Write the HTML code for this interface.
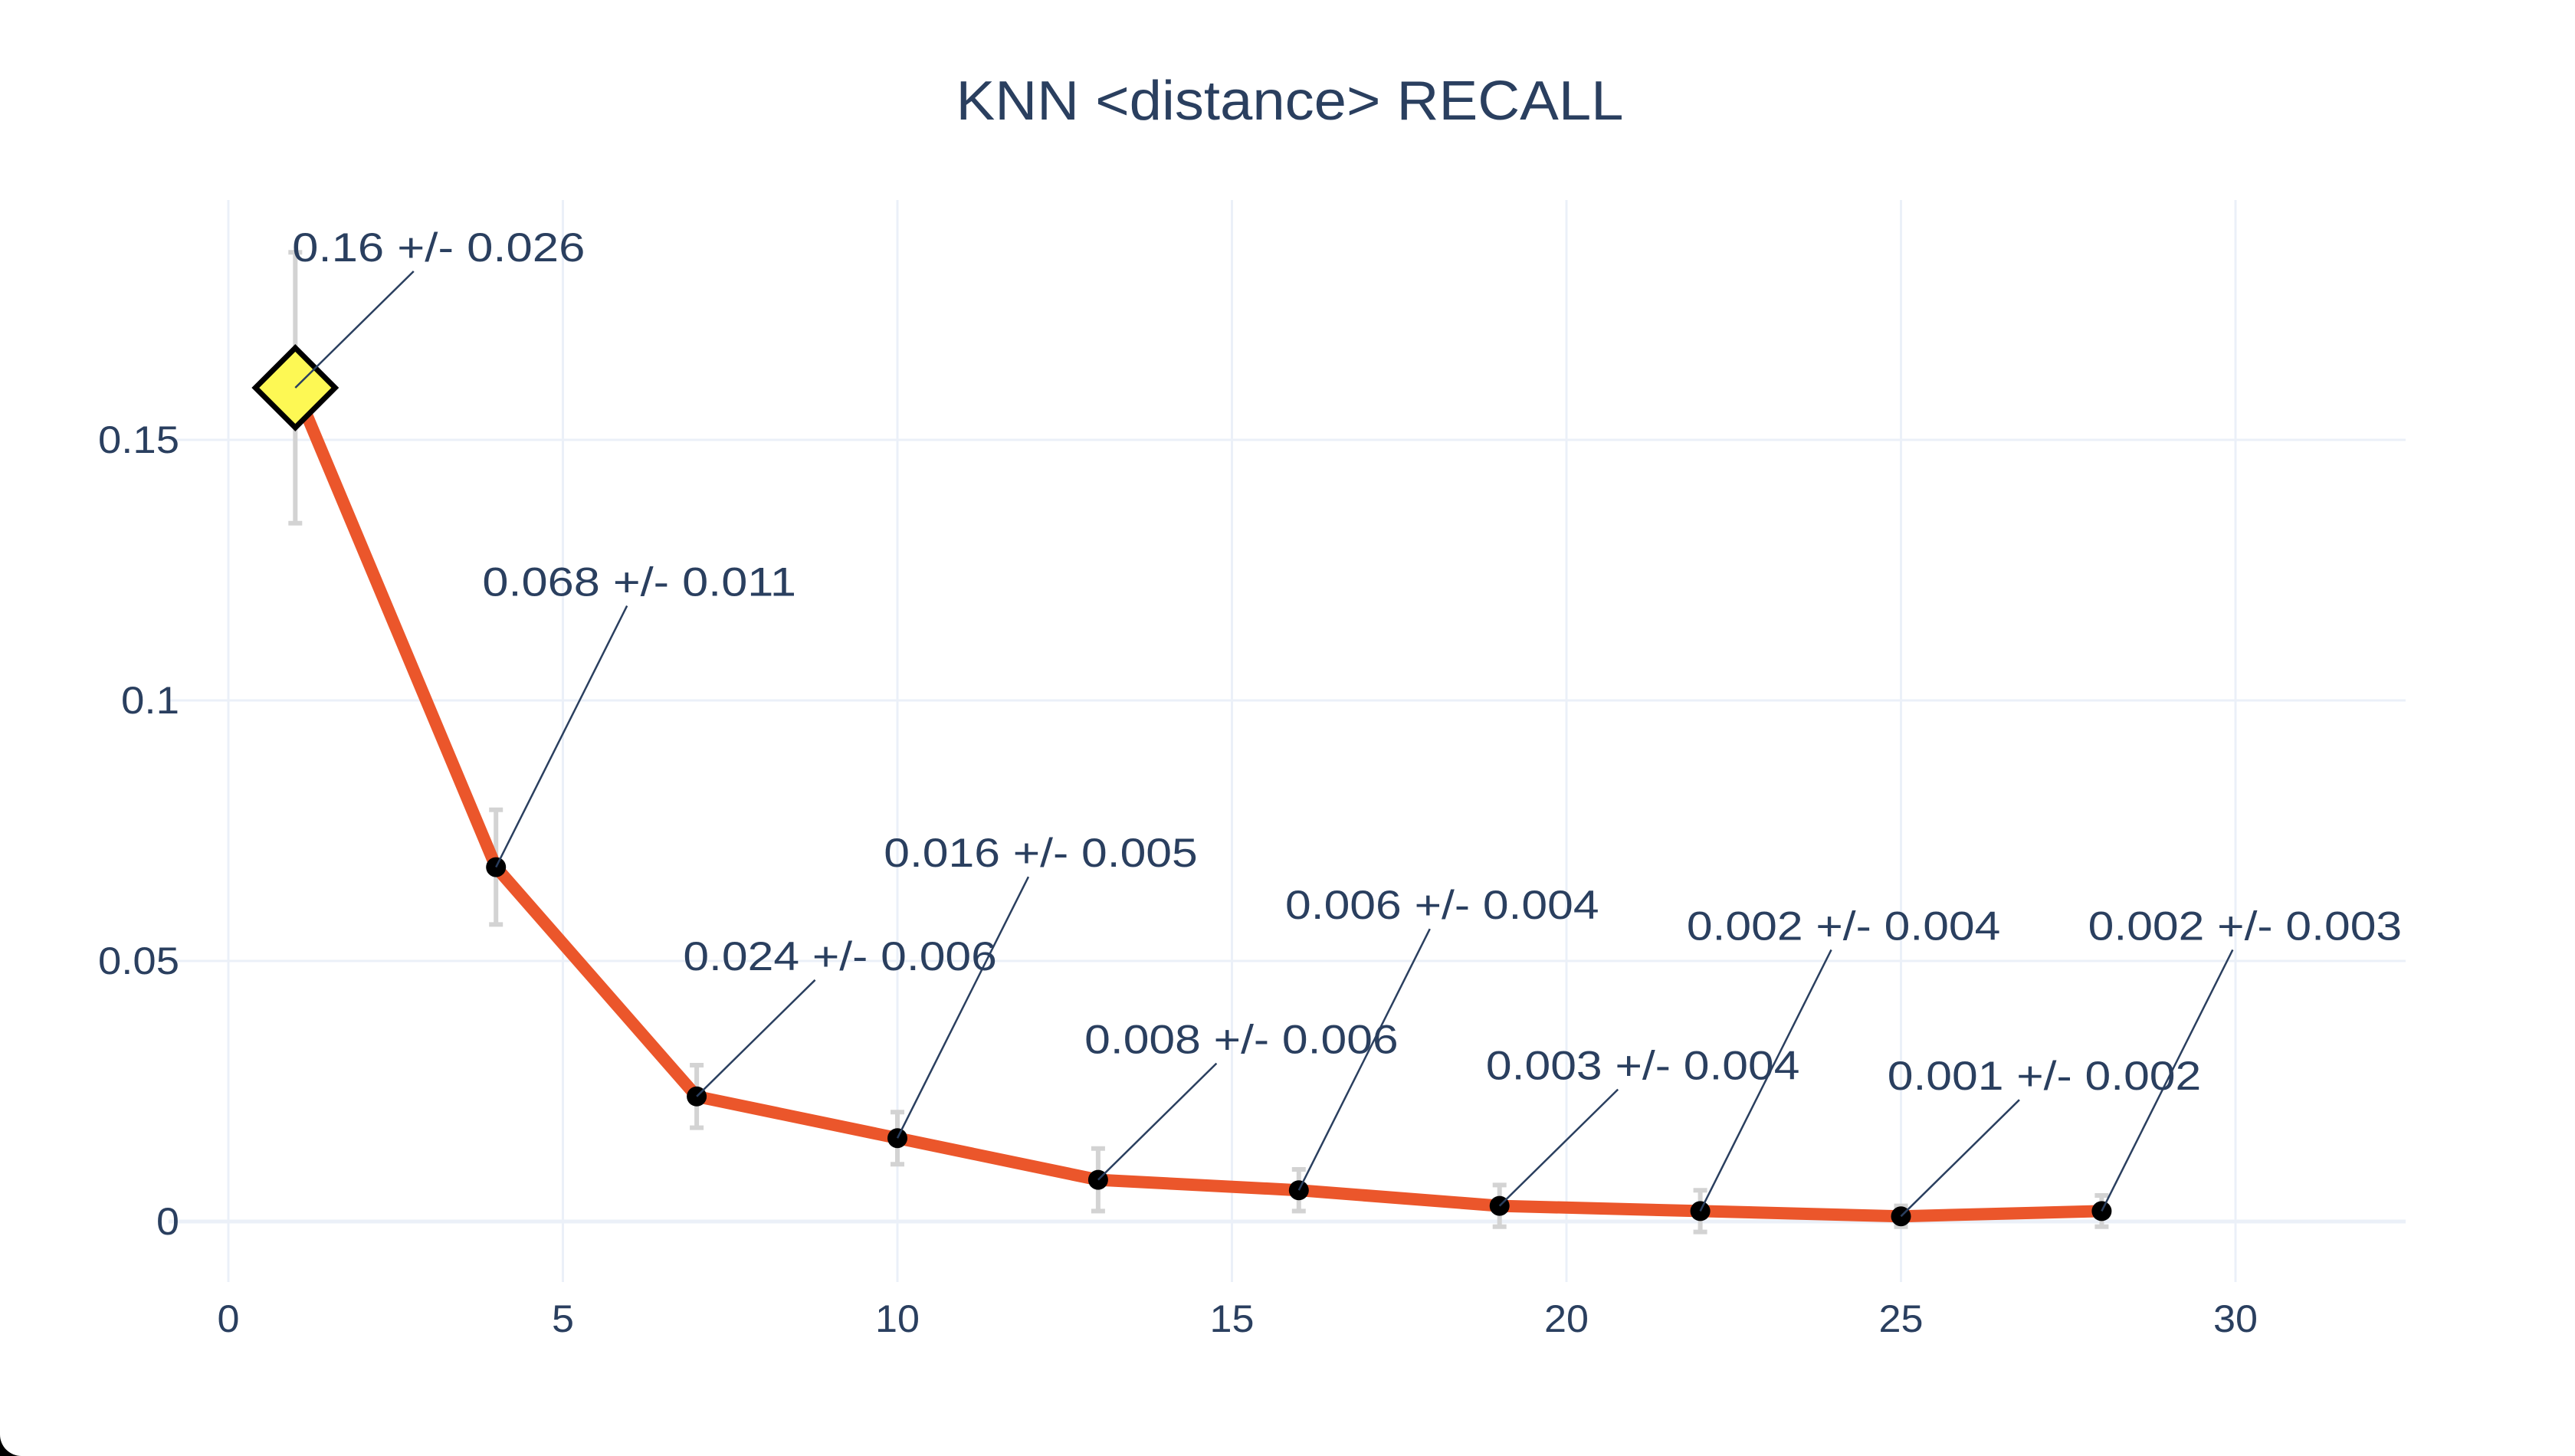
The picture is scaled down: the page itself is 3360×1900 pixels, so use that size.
<!DOCTYPE html>
<html><head><meta charset="utf-8"><style>
html,body{margin:0;padding:0;background:#000;}
#wrap{width:3360px;height:1900px;background:#fff;border-radius:0 0 0 28px;overflow:hidden;}
text{font-family:"Liberation Sans",sans-serif;fill:#2a3f5f;}
</style></head><body>
<div id="wrap">
<svg id="chart" width="3360" height="1900">
<text x="1683" y="156" font-size="72" text-anchor="middle" textLength="871" lengthAdjust="spacingAndGlyphs">KNN &lt;distance&gt; RECALL</text>
<g id="grid"></g><g id="ticks"></g><g id="errs"></g><g id="line"></g><g id="marks"></g><g id="anns"></g>
</svg></div>
<script>
const xs = [1,4,7,10,13,16,19,22,25,28];
const ys = [0.16,0.068,0.024,0.016,0.008,0.006,0.003,0.002,0.001,0.002];
const errs = [0.026,0.011,0.006,0.005,0.006,0.004,0.004,0.004,0.002,0.003];
const xTicks = [0,5,10,15,20,25,30];
const yTicks = [0,0.05,0.1,0.15];
const yTickLabels = ["0","0.05","0.1","0.15"];

const L=220,R=3139,T=261,B=1673;
const X=v=>298+v*87.3;
const Y=v=>1594-v*6800;
const NS="http://www.w3.org/2000/svg";
function mk(tag,attrs,parent){const e=document.createElementNS(NS,tag);for(const k in attrs)e.setAttribute(k,attrs[k]);document.getElementById(parent).appendChild(e);return e;}
function tlen(s,dig,dot,oth){let w=0;for(const c of s){w+=(c>='0'&&c<='9')?dig:(c==='.'?dot:oth);}return w;}

xTicks.forEach((t,i)=>{
  const g=mk('line',{x1:X(t),x2:X(t),y1:T,y2:B,stroke:'#ebf0f8','stroke-width':3},'grid');
  
  
  const s=String(t);
  const lb=mk('text',{x:X(t),y:1738,'font-size':50,'text-anchor':'middle',textLength:tlen(s,29,12,29),lengthAdjust:'spacingAndGlyphs'},'ticks');
  lb.textContent=s;
  
  
});
yTicks.forEach((t,i)=>{
  const g=mk('line',{x1:L,x2:R,y1:Y(t),y2:Y(t),stroke:'#ebf0f8','stroke-width':t===0?5:3},'grid');
  
  
  const s=yTickLabels[i];
  const lb=mk('text',{x:234,y:Y(t)+17,'font-size':50,'text-anchor':'end',textLength:tlen(s,30,16,30),lengthAdjust:'spacingAndGlyphs'},'ticks');
  lb.textContent=s;
  
  
});
xs.forEach((x,i)=>{
  const px=X(x),t=Y(ys[i]+errs[i]),b=Y(ys[i]-errs[i]);
  const e=mk('path',{d:`M${px},${t}V${b}M${px-9},${t}H${px+9}M${px-9},${b}H${px+9}`,stroke:'#d3d3d3','stroke-width':6,fill:'none'},'errs');
  
  
});
const ln=mk('polyline',{points:xs.map((x,i)=>X(x)+','+Y(ys[i])).join(' '),fill:'none',stroke:'#eb562b','stroke-width':16,'stroke-linejoin':'round'},'line');


xs.forEach((x,i)=>{
  const px=X(x),py=Y(ys[i]);
  let m;
  if(i===0){
    m=mk('path',{d:`M${px},${py-52}L${px+52},${py}L${px},${py+52}L${px-52},${py}Z`,fill:'#fdf854',stroke:'#000','stroke-width':7},'marks');
    
  } else {
    m=mk('circle',{cx:px,cy:py,r:13,fill:'#000'},'marks');
    
  }
  
  const dy=(i%2===0)?-184:-373;
  const cx=px+187,cy=py+dy;
  const by=cy+32;
  const f=(by-py)/(cy-py);
  const a=mk('line',{x1:px,y1:py,x2:px+(cx-px)*f,y2:by,stroke:'#2a3f5f','stroke-width':2.5},'anns');
  
  
  const s=ys[i]+' +/- '+errs[i];
  const tx=mk('text',{x:cx,y:cy+19,'font-size':53,'text-anchor':'middle',textLength:s.length*27.3,lengthAdjust:'spacingAndGlyphs'},'anns');
  tx.textContent=s;
  
  
});
</script>
</body></html>
